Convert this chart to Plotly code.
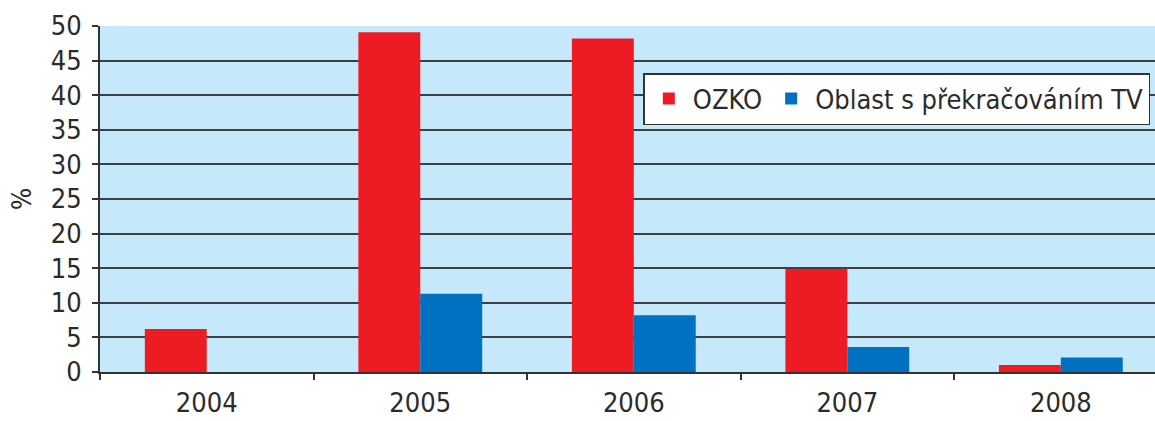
import plotly.graph_objects as go

years = ["2004", "2005", "2006", "2007", "2008"]
ozko = [6.2, 49.1, 48.2, 14.9, 1.0]
oblast = [0, 11.3, 8.2, 3.6, 2.1]
y_ticks = [0, 5, 10, 15, 20, 25, 30, 35, 40, 45, 50]

FONT = "DejaVu Sans Condensed, Liberation Sans Narrow, sans-serif"
TXT = "#2b2b2b"

fig = go.Figure()
fig.add_trace(go.Bar(x=years, y=ozko, name="OZKO", marker=dict(color="#ED1C24", line=dict(width=0))))
fig.add_trace(go.Bar(x=years, y=oblast, name="Oblast s překračováním TV", marker=dict(color="#0070C0", line=dict(width=0))))

fig.update_layout(
    width=1155, height=421,
    margin=dict(l=100, r=0, t=26, b=49, autoexpand=False),
    paper_bgcolor="white",
    plot_bgcolor="#C5E8FA",
    barmode="group",
    bargap=0.42,
    bargroupgap=0,
    font=dict(family=FONT, color=TXT, size=26),
    showlegend=True,
    legend=dict(
        orientation="h",
        x=0.515, xanchor="left",
        y=0.864, yanchor="top",
        bgcolor="white",
        bordercolor="#333333",
        borderwidth=1.5,
        font=dict(family=FONT, size=27, color=TXT),
        traceorder="normal",
        itemwidth=38,
    ),
)
fig.update_xaxes(
    type="category",
    range=[-0.5, 4.441],
    tickson="boundaries",
    ticks="outside", ticklen=6, tickwidth=1.5, tickcolor="#333333",
    showline=True, linecolor="#333333", linewidth=2,
    showgrid=False,
    automargin=False,
    ticklabelstandoff=6,
    tickfont=dict(family=FONT, size=27, color=TXT),
    fixedrange=True,
)
fig.update_yaxes(
    range=[0, 50],
    tickvals=y_ticks,
    ticks="outside", ticklen=6, tickwidth=1.5, tickcolor="#333333",
    showline=True, linecolor="#333333", linewidth=2,
    showgrid=True, gridcolor="#3f3f3f", gridwidth=2,
    zeroline=False,
    automargin=False,
    ticklabelstandoff=5,
    tickfont=dict(family=FONT, size=27, color=TXT),
    title=dict(text="%", font=dict(family=FONT, size=26, color=TXT), standoff=12),
    fixedrange=True,
)

fig.write_html(
    "out.html",
    config={"displayModeBar": False},
    post_script="document.body.style.margin='0';document.body.style.overflow='hidden';",
)
